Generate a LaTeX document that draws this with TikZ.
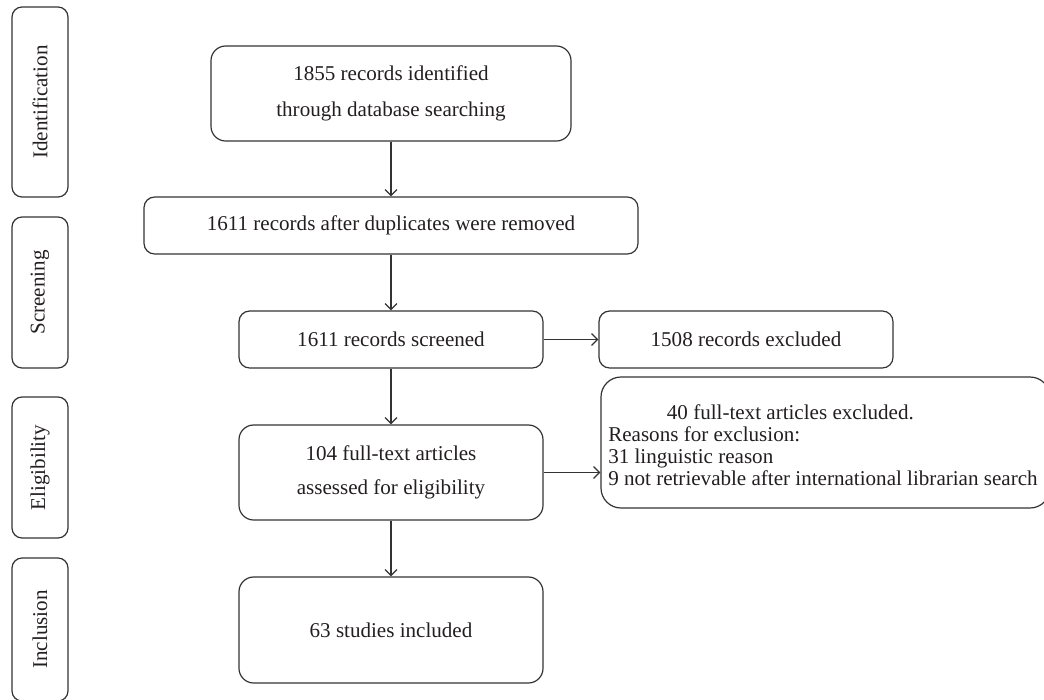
\documentclass[tikz,border=0pt]{standalone}
\usepackage{fontspec}
\setmainfont{Liberation Serif}
\usetikzlibrary{arrows.meta}
\definecolor{ln}{HTML}{333333}
\definecolor{tx}{HTML}{231F20}
\begin{document}
\begin{tikzpicture}[x=0.75pt,y=-0.75pt,
  box/.style={draw=ln, line width=0.9pt, rounded corners=8pt, text=tx, align=center,
    inner sep=0pt, font=\fontsize{15.8}{20}\selectfont},
  sidebox/.style={box, rotate=90, rounded corners=7.5pt, minimum height=42pt},
  conn/.style={draw=ln, line width=0.9pt, -{Straight Barb[length=4.5pt,width=9pt,line width=0.9pt]}}
]
\useasboundingbox (0,0) rectangle (1044,699);
\clip (0,0) rectangle (1044,699);
% stage labels
\node[sidebox, minimum width=142.5pt] (ident) at (40,102) {Identification};
\node[sidebox, minimum width=113.25pt] (screen) at (40,292.5) {Screening};
\node[sidebox, minimum width=105.75pt] (elig) at (40,467.5) {Eligibility};
\node[sidebox, minimum width=107.25pt] (incl) at (40,629.5) {Inclusion};
% main flow
\node[box, rounded corners=11pt, minimum width=270pt, minimum height=71.25pt,
  font=\fontsize{15.8}{27}\selectfont] (b1) at (391,93.5)
  {1855 records identified\\through database searching};
\node[box, minimum width=370.5pt, minimum height=42.75pt] (b2) at (391,225.5)
  {1611 records after duplicates were removed};
\node[box, minimum width=228pt, minimum height=42.75pt] (b3) at (391,339.5)
  {1611 records screened};
\node[box, rounded corners=11pt, minimum width=228pt, minimum height=71.25pt,
  font=\fontsize{15.8}{25.5}\selectfont] (b4) at (391,472.5)
  {104 full-text articles\\assessed for eligibility};
\node[box, rounded corners=11pt, minimum width=228pt, minimum height=79.5pt] (b5) at (391,630)
  {63 studies included};
\node[box, minimum width=220.5pt, minimum height=42.75pt] (e1) at (746,339.5)
  {1508 records excluded};
\node[box, rounded corners=15pt, minimum width=336.75pt, minimum height=98.25pt] (e2) at (825.5,442.5) {};
\node[anchor=west, align=left, inner sep=0pt, text=tx,
  font=\fontsize{15.8}{16.5}\selectfont] (e2t) at (608,445)
  {\hspace*{44pt}40 full-text articles excluded.\\Reasons for exclusion:\\31 linguistic reason\\9 not retrievable after international librarian search};
% connectors
\draw[conn] (b1.south) -- (b2.north);
\draw[conn] (b2.south) -- (b3.north);
\draw[conn] (b3.south) -- (b4.north);
\draw[conn] (b4.south) -- (b5.north);
\draw[conn] (b3.east) -- (e1.west);
\draw[conn] (b4.east) -- (b4.east -| e2.west);
\end{tikzpicture}
\end{document}
